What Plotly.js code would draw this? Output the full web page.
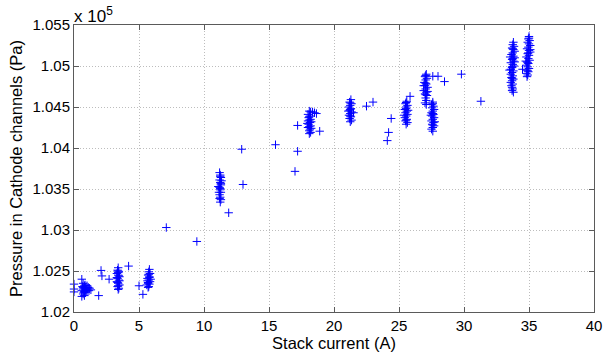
<!DOCTYPE html>
<html>
<head>
<meta charset="utf-8">
<script src="https://cdn.plot.ly/plotly-3.0.1.min.js"></script>
<style>html,body{margin:0;padding:0;background:#fff;}#chart{width:604px;height:353px;}</style>
</head>
<body>
<div id="chart"></div>
<script>
// Stack current (A) and cathode-channel pressure (Pa)
const clusterAx = [0.6,0.7,0.8,0.9,0.7,0.6,0.8,1.0,1.1,1.2,1.3,0.9,0.7,0.6,0.8,1.0,0.65,0.85,1.15,1.0,0.75,0.9,0.7,0.8];
const clusterAy = [102400,102350,102320,102300,102280,102260,102250,102280,102300,102290,102270,102240,102220,102190,102200,102260,102310,102330,102260,102320,102240,102270,102300,102290];

const clusterBx = [3.4,3.35,3.45,3.3,3.4,3.5,3.35,3.45,3.3,3.4,3.5,3.35,3.45,3.4,3.3,3.5,3.4,3.4,3.45,3.35,3.4];
const clusterBy = [102540,102510,102490,102470,102450,102430,102410,102390,102370,102350,102330,102310,102290,102275,102420,102380,102480,102500,102440,102360,102320];

const clusterCx = [5.8,5.75,5.85,5.7,5.8,5.65,5.75,5.85,5.7,5.6,5.75,5.8,5.65,5.9,5.7,5.75,5.8,5.7];
const clusterCy = [102520,102490,102470,102450,102430,102410,102390,102370,102350,102330,102310,102340,102380,102400,102300,102460,102420,102360];

const clusterDx = [11.2,11.25,11.3,11.2,11.25,11.3,11.2,11.25,11.3,11.2,11.25,11.3,11.25,11.1,11.35,11.15,11.25,11.25,11.2,11.3];
const clusterDy = [103700,103670,103640,103610,103580,103550,103520,103490,103460,103430,103400,103370,103340,103530,103600,103460,103655,103505,103385,103565];

const clusterEx = [18.1,18.2,18.35,18.5,18.65,18.0,18.15,18.05,18.2,18.0,18.15,18.05,18.2,18.0,18.15,18.1,18.2,18.1,17.95,18.25,18.25,18.1,18.1,18.1];
const clusterEy = [104450,104440,104440,104430,104420,104410,104390,104370,104350,104330,104310,104290,104270,104250,104230,104210,104190,104175,104300,104320,104240,104380,104340,104260];

const clusterFx = [21.3,21.2,21.35,21.25,21.15,21.3,21.2,21.35,21.25,21.15,21.3,21.2,21.35,21.25,21.5,21.1,21.25,21.25,21.25];
const clusterFy = [104590,104560,104540,104520,104500,104480,104460,104440,104420,104400,104380,104360,104340,104320,104430,104450,104550,104470,104390];

const clusterGx = [25.6,25.5,25.65,25.55,25.45,25.6,25.5,25.65,25.55,25.45,25.6,25.5,25.65,25.55,25.4,25.7,25.55,25.55,25.55];
const clusterGy = [104570,104540,104520,104500,104470,104450,104430,104410,104390,104370,104350,104330,104310,104290,104400,104460,104555,104480,104340];

const clusterHx = [27.1,27.0,27.15,27.05,26.95,27.1,27.0,27.2,27.05,26.9,27.1,27.0,27.15,27.05,27.1,27.0,27.1,26.9,27.2,27.05,27.05,27.05];
const clusterHy = [104900,104870,104850,104830,104800,104780,104760,104740,104720,104700,104680,104660,104640,104610,104580,104550,104530,104760,104690,104885,104790,104650];

const clusterIx = [27.6,27.5,27.65,27.55,27.7,27.6,27.5,27.65,27.55,27.7,27.6,27.5,27.65,27.55,27.7,27.6,27.5,27.6,27.45,27.75,27.6,27.6,27.6];
const clusterIy = [104560,104530,104510,104490,104470,104450,104430,104410,104390,104370,104350,104330,104310,104290,104270,104250,104230,104205,104400,104320,104540,104420,104280];

const clusterJx = [33.8,33.75,33.85,33.7,33.8,33.9,33.75,33.65,33.8,33.9,33.7,33.8,33.6,33.75,33.85,33.7,33.6,33.8,33.7,33.6,33.75,33.65,33.8,33.7,33.6,33.75,33.65,33.7,33.75,33.7,33.8,33.5,33.9,33.55,33.75,33.75,33.7,33.7];
const clusterJy = [105290,105260,105240,105220,105200,105180,105160,105140,105120,105100,105080,105060,105040,105020,105000,104980,104960,104940,104920,104900,104880,104860,104840,104820,104800,104780,104760,104740,104720,104700,104680,104950,105050,105110,105210,105090,104990,104850];

const clusterKx = [35.0,34.95,35.05,34.9,35.0,35.1,34.95,34.85,35.0,35.1,34.9,35.0,34.8,34.95,35.05,34.85,34.95,34.8,34.9,35.0,34.85,34.95,34.8,34.9,34.85,35.1,34.75,35.0,34.95,34.9,34.9];
const clusterKy = [105360,105330,105310,105290,105270,105250,105230,105210,105190,105170,105150,105130,105110,105090,105070,105050,105030,105010,104990,104970,104950,104930,104910,104890,104870,105200,105060,105340,105160,105040,104940];

const singleX = [0,0,0,1.9,2.08,2.15,2.7,4.2,5.0,5.3,7.1,9.45,11.9,12.9,13.0,15.5,17.0,17.2,17.2,18.9,22.5,23.0,24.1,24.2,24.4,25.85,27.6,28.0,28.5,29.8,31.3,34.5];
const singleY = [102340,102280,102245,102200,102507,102440,102400,102560,102320,102215,103030,102860,103210,103985,103555,104040,103715,103960,104275,104205,104510,104560,104090,104190,104360,104630,104875,104875,104810,104900,104570,104960];

const xTicks = [0,5,10,15,20,25,30,35,40];
const yTickVals = [1.02,1.025,1.03,1.035,1.04,1.045,1.05,1.055];
const yTickText = ['1.02','1.025','1.03','1.035','1.04','1.045','1.05','1.055'];
const yScale = 1e5;

const xs = [].concat(clusterAx,clusterBx,clusterCx,clusterDx,clusterEx,clusterFx,clusterGx,clusterHx,clusterIx,clusterJx,clusterKx,singleX);
const ysPa = [].concat(clusterAy,clusterBy,clusterCy,clusterDy,clusterEy,clusterFy,clusterGy,clusterHy,clusterIy,clusterJy,clusterKy,singleY);
const ys = ysPa.map(v => v / yScale);

const FONT = 'Liberation Sans, Arial, Helvetica, sans-serif';
const axisCommon = {
  showline: true, linecolor: '#5a5a5a', linewidth: 1, mirror: 'ticks',
  ticks: 'inside', ticklen: 5, tickcolor: '#5a5a5a', tickwidth: 1,
  showgrid: true, gridcolor: '#bdbdbd', griddash: '1px,2px', gridwidth: 1,
  zeroline: false, tickfont: {family: FONT, size: 15, color: '#000'},
  automargin: false
};

const data = [{
  type: 'scatter', mode: 'markers', x: xs, y: ys, cliponaxis: false,
  marker: {symbol: 'cross-thin', size: 6, color: '#0000ff', line: {color: '#0000ff', width: 1}},
  hoverinfo: 'skip'
}];

const layout = {
  width: 604, height: 353,
  margin: {l: 74, r: 10, t: 25, b: 41},
  paper_bgcolor: '#fff', plot_bgcolor: '#fff',
  showlegend: false,
  font: {family: FONT, color: '#000'},
  xaxis: Object.assign({}, axisCommon, {
    range: [0, 40], tickvals: xTicks,
    title: {text: 'Stack current (A)', font: {family: FONT, size: 16.5, color: '#000'}, standoff: 0}
  }),
  yaxis: Object.assign({}, axisCommon, {
    range: [1.02, 1.055], tickvals: yTickVals, ticktext: yTickText,
    title: {text: 'Pressure in Cathode channels (Pa)', font: {family: FONT, size: 16.5, color: '#000'}, standoff: 5}
  }),
  annotations: [{
    xref: 'paper', yref: 'paper', x: 0, y: 1, xanchor: 'left', yanchor: 'bottom',
    xshift: -2, yshift: -3, showarrow: false,
    text: 'x 10<sup>5</sup>', font: {family: FONT, size: 17, color: '#000'}
  }]
};

Plotly.newPlot('chart', data, layout, {staticPlot: true, displayModeBar: false});
</script>
</body>
</html>
